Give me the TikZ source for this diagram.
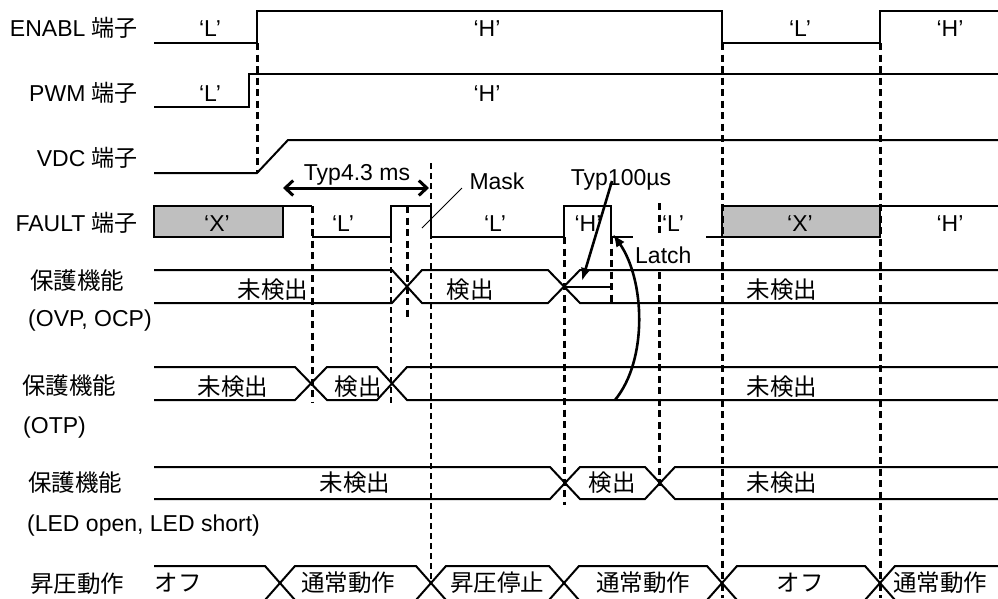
\documentclass[tikz,border=0pt]{standalone}
\usepackage{fontspec}
\setmainfont{Liberation Sans}
\newfontfamily\cjk{Noto Sans CJK JP}
\usetikzlibrary{arrows.meta}
\begin{document}
\begin{tikzpicture}[x=1pt,y=-1pt,
  sig/.style={line width=2pt, line join=miter},
  dthick/.style={line width=3pt, dash pattern=on 7pt off 4.5pt},
  dthin/.style={line width=1.6pt, dash pattern=on 6pt off 4pt},
  txt/.style={inner sep=0pt, anchor=base, font=\fontsize{23}{27}\selectfont},
  jtxt/.style={inner sep=0pt, anchor=base, font=\fontsize{23.5}{27}\selectfont\cjk},
  greybox/.style={sig, fill=gray!50},
  lbl/.style={txt, anchor=base west},
  jlbl/.style={jtxt, anchor=base west},
]
\useasboundingbox (0,0) rectangle (998,598);

% ---------- row labels ----------
\node[txt, anchor=base east] (lenabl) at (138,36) {ENABL {\cjk 端子}};
\node[txt, anchor=base east] (lpwm) at (138,101) {PWM {\cjk 端子}};
\node[txt, anchor=base east] (lvdc) at (138,166) {VDC {\cjk 端子}};
\node[txt, anchor=base east] (lfault) at (138,231) {FAULT {\cjk 端子}};
\node[jlbl] (lovp) at (30,289) {保護機能};
\node[lbl] (lovp2) at (28,326) {(OVP, OCP)};
\node[jlbl] (lotp) at (22,394) {保護機能};
\node[lbl] (lotp2) at (23,433) {(OTP)};
\node[jlbl] (lled) at (28,491) {保護機能};
\node[lbl] (lled2) at (27,531) {(LED open, LED short)};
\node[jlbl] (lboost) at (30,592) {昇圧動作};

% ---------- ENABL ----------
\draw[sig] (154,43) -- (257,43) -- (257,11) -- (722,11) -- (722,43) -- (880,43) -- (880,11) -- (998,11);
\node[txt] (e1) at (210,36) {‘L’};
\node[txt] (e2) at (487,36) {‘H’};
\node[txt] (e3) at (800,36) {‘L’};
\node[txt] (e4) at (950,36) {‘H’};

% ---------- PWM ----------
\draw[sig] (154,107) -- (249,107) -- (249,74) -- (998,74);
\node[txt] (p1) at (210,101) {‘L’};
\node[txt] (p2) at (487,101) {‘H’};

% ---------- VDC ----------
\draw[sig] (154,173) -- (257,173) -- (288,140) -- (998,140);

% ---------- FAULT ----------
\draw[greybox] (154,206) rectangle (283,237);
\draw[sig] (283,206) -- (312,206);
\draw[sig] (312,237) -- (391,237) -- (391,206) -- (431,206) -- (431,237) -- (564,237) -- (564,206) -- (611,206) -- (611,237) -- (722,237);
\draw[greybox] (722,206) rectangle (880,237);
\draw[sig] (880,206) -- (998,206);
\node[txt] (f1) at (217,231) {‘X’};
\node[txt] (f2) at (343,231) {‘L’};
\node[txt] (f3) at (495,231) {‘L’};
\node[txt] (f4) at (588,231) {‘H’};
\node[txt] (f5) at (673,231) {‘L’};
\node[txt] (f6) at (800,231) {‘X’};
\node[txt] (f7) at (950,231) {‘H’};

% ---------- OVP / OCP ----------
\draw[sig] (154,270) -- (392,270) -- (422,303) -- (548,303) -- (580,270) -- (998,270);
\draw[sig] (154,303) -- (392,303) -- (422,270) -- (548,270) -- (580,303) -- (998,303);
\draw[sig] (564,287) -- (611,287);
\node[jtxt] (o1) at (273,298.7) {未検出};
\node[jtxt] (o2) at (470,298.7) {検出};
\node[jtxt] (o3) at (782,298.7) {未検出};

% ---------- OTP ----------
\draw[sig] (154,367) -- (295,367) -- (327,400) -- (377,400) -- (407,367) -- (998,367);
\draw[sig] (154,400) -- (295,400) -- (327,367) -- (377,367) -- (407,400) -- (998,400);
\node[jtxt] (t1) at (233,395.7) {未検出};
\node[jtxt] (t2) at (358,395.7) {検出};
\node[jtxt] (t3) at (782,395.7) {未検出};

% ---------- LED ----------
\draw[sig] (154,467) -- (550,467) -- (580,499) -- (645,499) -- (675,467) -- (998,467);
\draw[sig] (154,499) -- (550,499) -- (580,467) -- (645,467) -- (675,499) -- (998,499);
\node[jtxt] (d1) at (355,491.7) {未検出};
\node[jtxt] (d2) at (612,491.7) {検出};
\node[jtxt] (d3) at (782,491.7) {未検出};

% ---------- Boost ----------
\begin{scope}
\clip (0,0) rectangle (998,598);
\draw[sig] (154,566) -- (265,566) -- (295,600) -- (416,600) -- (446,566) -- (549,566) -- (579,600) -- (707,600) -- (737,566) -- (865,566) -- (895,600) -- (998,600);
\draw[sig] (154,600) -- (265,600) -- (295,566) -- (416,566) -- (446,600) -- (549,600) -- (579,566) -- (707,566) -- (737,600) -- (865,600) -- (895,566) -- (998,566);
\end{scope}
\node[jtxt] (b1) at (178,591.7) {オフ};
\node[jtxt] (b2) at (348,591.7) {通常動作};
\node[jtxt] (b3) at (497,591.7) {昇圧停止};
\node[jtxt] (b4) at (643,591.7) {通常動作};
\node[jtxt] (b5) at (800,591.7) {オフ};
\node[jtxt] (b6) at (940,591.7) {通常動作};

% ---------- dashed guides ----------
\draw[dthick] (257,43) -- (257,173);
\draw[dthick] (312,206) -- (312,402);
\draw[dthick] (407,206) -- (407,318);
\draw[dthin] (391,237) -- (391,405);
\draw[dthin] (431,163) -- (431,584);
\draw[dthick] (564,237) -- (564,505);
\draw[dthick] (611,237) -- (611,303);
\draw[dthick] (659,203) -- (659,490);
\draw[dthick] (722,43) -- (722,598);
\draw[dthick] (880,43) -- (880,598);

% ---------- Latch ----------
\fill[white] (633,235) rectangle (706,268.4);
\node[lbl] (latch) at (635,263) {Latch};
\coordinate (lstart) at (615,400);
\coordinate (lend) at (613,234);
\draw[line width=2.6pt, -{Latex[length=13pt,width=10pt]}] (lstart) .. controls (648,360) and (645,280) .. (lend);

% ---------- annotations ----------
\node[txt] (typ43) at (357,180) {Typ4.3 ms};
\coordinate (t43l) at (283,188);
\coordinate (t43r) at (429,188);
\draw[line width=3pt, {Straight Barb[length=8pt,width=15pt]}-{Straight Barb[length=8pt,width=15pt]}] (t43l) -- (t43r);

\node[txt] (mask) at (497,189) {Mask};
\coordinate (mk1) at (462,188);
\coordinate (mk2) at (422,228);
\draw[line width=1pt] (mk1) -- (mk2);

\node[txt] (typ100) at (621,185) {Typ100µs};
\coordinate (a100s) at (612,181);
\coordinate (a100e) at (582,281);
\draw[line width=2.6pt, -{Latex[length=13pt,width=10pt]}] (a100s) -- (a100e);

\end{tikzpicture}
\end{document}
